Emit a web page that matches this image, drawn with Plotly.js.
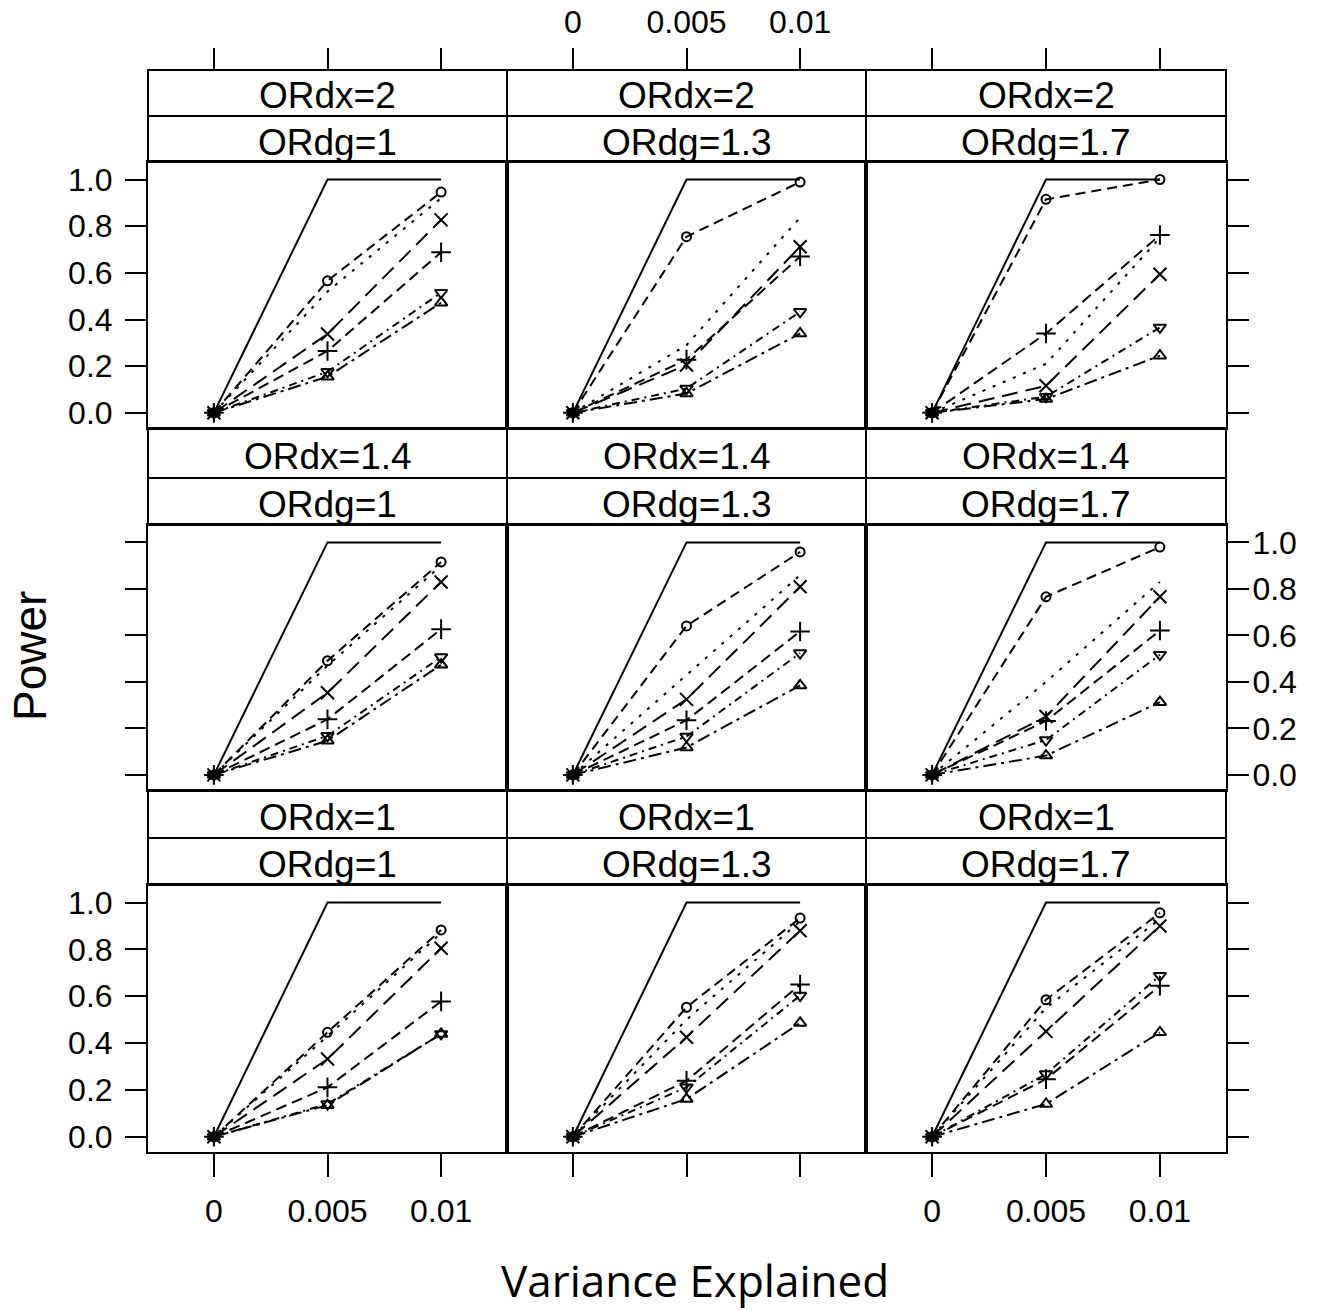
<!DOCTYPE html>
<html>
<head>
<meta charset="utf-8">
<script src="https://cdn.plot.ly/plotly-3.0.1.min.js"></script>
<style>html,body{margin:0;padding:0;background:#fff;}#chart{width:1327px;height:1310px;}</style>
</head>
<body>
<div id="chart"></div>
<script>
// ---------------- DATA ----------------
const varianceExplained = [0, 0.005, 0.01];
const xTickLabels = ["0", "0.005", "0.01"];
const ORdxLevels = ["2", "1.4", "1"];      // rows, top to bottom
const ORdgLevels = ["1", "1.3", "1.7"];    // columns, left to right

// one entry per panel, row-major (ORdx=2 row first), each [at 0, at 0.005, at 0.01]
const solidLine = [
  [0,1,1],[0,1,1],[0,1,1],
  [0,1,1],[0,1,1],[0,1,1],
  [0,1,1],[0,1,1],[0,1,1]
];
const circleSeries = [
  [0,0.566,0.946],[0,0.755,0.989],[0,0.915,1.0],
  [0,0.491,0.916],[0,0.641,0.959],[0,0.766,0.98],
  [0,0.446,0.883],[0,0.553,0.934],[0,0.585,0.956]
];
const dottedSeries = [
  [0,0.52,0.92],[0,0.29,0.837],[0,0.21,0.75],
  [0,0.47,0.90],[0,0.43,0.859],[0,0.40,0.83],
  [0,0.43,0.87],[0,0.50,0.92],[0,0.55,0.93]
];
const crossSeries = [
  [0,0.338,0.827],[0,0.205,0.712],[0,0.116,0.594],
  [0,0.353,0.83],[0,0.325,0.809],[0,0.251,0.766],
  [0,0.332,0.805],[0,0.425,0.88],[0,0.45,0.90]
];
const plusSeries = [
  [0,0.265,0.688],[0,0.228,0.67],[0,0.34,0.762],
  [0,0.239,0.627],[0,0.235,0.617],[0,0.232,0.621],
  [0,0.211,0.578],[0,0.239,0.65],[0,0.246,0.645]
];
const triDownSeries = [
  [0,0.176,0.515],[0,0.104,0.433],[0,0.069,0.366],
  [0,0.168,0.507],[0,0.165,0.524],[0,0.15,0.517],
  [0,0.14,0.439],[0,0.211,0.603],[0,0.268,0.688]
];
const triUpSeries = [
  [0,0.155,0.472],[0,0.083,0.34],[0,0.059,0.245],
  [0,0.147,0.474],[0,0.118,0.385],[0,0.083,0.313],
  [0,0.135,0.439],[0,0.161,0.486],[0,0.14,0.446]
];
const yTickVals = [0, 0.2, 0.4, 0.6, 0.8, 1.0];
const yTickLabels = ["0.0", "0.2", "0.4", "0.6", "0.8", "1.0"];

// ---------------- LAYOUT GEOMETRY ----------------
const W = 1327, H = 1310;
const colL = [148, 507, 866], colR = [507, 866, 1226];
const plotTop = [162, 525, 885], plotBot = [428, 790, 1152];
const strip1Top = [70, 428, 790], stripMid = [116, 478, 838];
const px = v => v / W, py = v => 1 - v / H;

const FONT = "Liberation Sans, Arial, sans-serif";
const TICK_SIZE = 32;
const xRange = [-0.0029, 0.0129];
const yRange = [-0.065, 1.075];

const seriesDefs = [
  {name: "solid", data: solidLine, dash: "solid", mode: "lines"},
  {name: "circle", data: circleSeries, dash: "10px,6px", mode: "lines+markers", symbol: "circle-open", size: 9},
  {name: "dotted", data: dottedSeries, dash: "3px,8px", mode: "lines"},
  {name: "x", data: crossSeries, dash: "16px,8px", mode: "lines+markers", symbol: "x-thin-open", size: 13},
  {name: "plus", data: plusSeries, dash: "11px,6px", mode: "lines+markers", symbol: "cross-thin-open", size: 14},
  {name: "tridown", data: triDownSeries, dash: "8px,5px,2px,5px", mode: "lines+markers", symbol: "triangle-down-open", size: 11},
  {name: "triup", data: triUpSeries, dash: "13px,5px,3px,5px", mode: "lines+markers", symbol: "triangle-up-open", size: 11}
];

const traces = [];
const layout = {
  width: W, height: H,
  margin: {l: 0, r: 0, t: 0, b: 0},
  paper_bgcolor: "#fff", plot_bgcolor: "#fff",
  showlegend: false,
  font: {family: FONT, color: "#000"},
  shapes: [], annotations: []
};

for (let r = 0; r < 3; r++) {
  for (let c = 0; c < 3; c++) {
    const i = r * 3 + c, n = i + 1;
    const xa = "x" + n, ya = "y" + n;
    seriesDefs.forEach(s => {
      const t = {
        x: varianceExplained, y: s.data[i], xaxis: xa, yaxis: ya,
        mode: s.mode, name: s.name, hoverinfo: "skip",
        line: {color: "#000", width: 2, dash: s.dash}
      };
      if (s.symbol) t.marker = {symbol: s.symbol, size: s.size, color: "#000", line: {color: "#000", width: 2}};
      traces.push(t);
    });
    const xKey = "xaxis" + (n === 1 ? "" : n), yKey = "yaxis" + (n === 1 ? "" : n);
    const xBottom = (r === 2);
    layout[xKey] = {
      domain: [px(colL[c]), px(colR[c])], anchor: ya, range: xRange,
      showgrid: false, zeroline: false,
      showline: true, mirror: true, linecolor: "#000", linewidth: 2,
      tickvals: varianceExplained, ticktext: xTickLabels,
      ticks: xBottom ? "outside" : "", ticklen: 23, tickwidth: 2, tickcolor: "#000",
      showticklabels: xBottom && c !== 1,
      ticklabelstandoff: 7,
      tickfont: {family: FONT, size: TICK_SIZE, color: "#000"}
    };
    const yHasTicks = (c !== 1);
    const yLabels = (c === 0 && r !== 1) || (c === 2 && r === 1);
    layout[yKey] = {
      domain: [py(plotBot[r]), py(plotTop[r])], anchor: xa, range: yRange,
      side: c === 2 ? "right" : "left",
      showgrid: false, zeroline: false,
      showline: true, mirror: true, linecolor: "#000", linewidth: 2,
      tickvals: yTickVals, ticktext: yTickLabels,
      ticks: yHasTicks ? "outside" : "", ticklen: 21, tickwidth: 2, tickcolor: "#000",
      showticklabels: yLabels,
      ticklabelstandoff: c === 2 ? -3 : 6,
      tickfont: {family: FONT, size: TICK_SIZE, color: "#000"}
    };
    // strips
    const stripTexts = ["ORdx=" + ORdxLevels[r], "ORdg=" + ORdgLevels[c]];
    const bands = [[strip1Top[r], stripMid[r]], [stripMid[r], plotTop[r]]];
    bands.forEach((b, k) => {
      layout.shapes.push({type: "rect", xref: "paper", yref: "paper",
        x0: px(colL[c]), x1: px(colR[c]), y0: py(b[1]), y1: py(b[0]),
        line: {color: "#000", width: 2}, fillcolor: "rgba(0,0,0,0)", layer: "above"});
      layout.annotations.push({xref: "paper", yref: "paper",
        x: px((colL[c] + colR[c]) / 2), y: py((b[0] + b[1]) / 2 + 3),
        xanchor: "center", yanchor: "middle", showarrow: false,
        text: stripTexts[k], font: {family: FONT, size: 37, color: "#000"}});
    });
  }
}

// top tick axes above the first row of strips (overlaying the top-row panels' x axes)
for (let c = 0; c < 3; c++) {
  const n = 10 + c;
  const baseX = c === 0 ? "x" : "x" + (c + 1);
  const baseY = c === 0 ? "y" : "y" + (c + 1);
  layout["xaxis" + n] = {
    overlaying: baseX,
    anchor: "free", position: py(70),
    side: "top", range: xRange, showgrid: false, zeroline: false, showline: false,
    tickvals: varianceExplained, ticktext: xTickLabels,
    ticks: "outside", ticklen: 22, tickwidth: 2, tickcolor: "#000",
    showticklabels: c === 1, ticklabelstandoff: 2,
    tickfont: {family: FONT, size: TICK_SIZE, color: "#000"}
  };
  // empty carrier trace so the overlay axis is drawn
  traces.push({x: [], y: [], xaxis: "x" + n, yaxis: baseY, mode: "lines",
    hoverinfo: "skip", showlegend: false});
}

// axis titles
layout.annotations.push({xref: "paper", yref: "paper", x: px(695), y: py(1280),
  xanchor: "center", yanchor: "middle", showarrow: false,
  text: "Variance Explained", font: {family: "Open Sans, sans-serif", size: 44, color: "#000"}});
layout.annotations.push({xref: "paper", yref: "paper", x: px(30), y: py(656),
  xanchor: "center", yanchor: "middle", showarrow: false, textangle: -90,
  text: "Power", font: {family: FONT, size: 46, color: "#000"}});

Plotly.newPlot("chart", traces, layout, {staticPlot: true});
</script>
</body>
</html>
